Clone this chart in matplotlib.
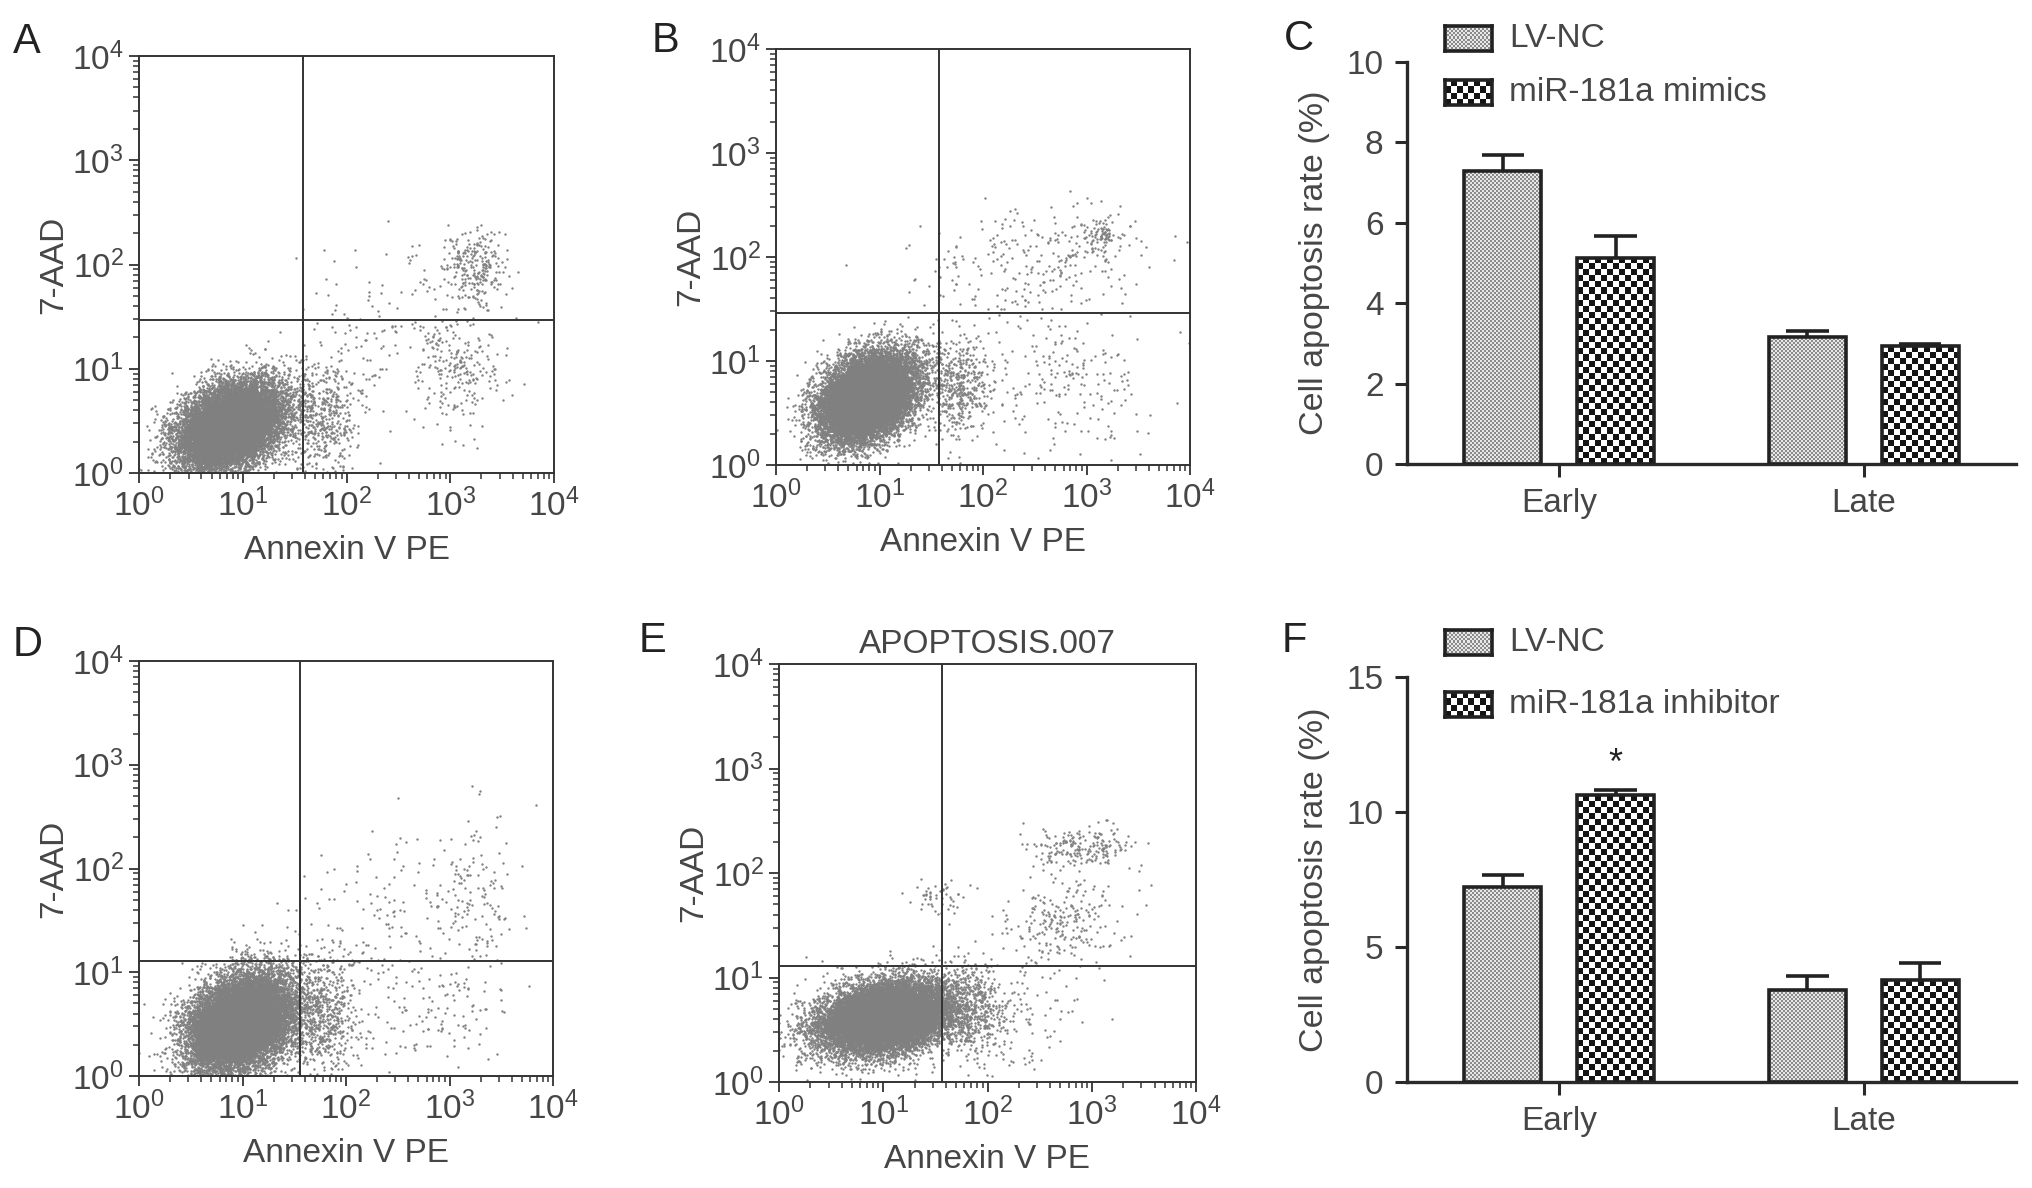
import numpy as np
import matplotlib
matplotlib.use("Agg")
import matplotlib.pyplot as plt
from matplotlib.colors import ListedColormap
from matplotlib.ticker import LogLocator, LogFormatterSciNotation, NullFormatter

plt.rcParams['font.family'] = ['Liberation Sans', 'DejaVu Sans']
plt.rcParams['mathtext.fontset'] = 'custom'
plt.rcParams['mathtext.rm'] = 'Liberation Sans'
plt.rcParams['mathtext.default'] = 'regular'

TXT = '#464646'
LINE = '#333333'
DOT = '#808080'
FS = 24

# === Flow cytometry panels: gates (Annexin V PE, 7-AAD) ===
gate_a = (38.2, 29.4)
gate_b = (37.6, 29.0)
gate_d = (36.0, 12.8)
gate_e = (36.6, 12.8)

# cell populations, in log10 units:
# centre x, centre y, spread x, spread y, correlation, number of events
pop_a_cx = [0.88, 1.75, 3.22, 3.05, 2.20]
pop_a_cy = [0.45, 0.50, 1.96, 1.00, 1.30]
pop_a_sx = [0.25, 0.18, 0.17, 0.22, 0.45]
pop_a_sy = [0.21, 0.28, 0.20, 0.28, 0.45]
pop_a_r = [0.35, 0.0, 0.0, 0.0, 0.3]
pop_a_n = [13000, 500, 260, 230, 170]

pop_b_cx = [0.88, 1.75, 3.12, 2.50, 2.70]
pop_b_cy = [0.65, 0.75, 2.20, 1.95, 0.85]
pop_b_sx = [0.23, 0.16, 0.10, 0.55, 0.45]
pop_b_sy = [0.21, 0.25, 0.10, 0.28, 0.40]
pop_b_r = [0.35, 0.0, 0.0, 0.2, 0.0]
pop_b_n = [14000, 450, 90, 260, 230]

pop_d_cx = [0.98, 1.75, 3.25, 2.30, 2.90]
pop_d_cy = [0.52, 0.55, 1.75, 1.40, 0.60]
pop_d_sx = [0.25, 0.18, 0.18, 0.45, 0.35]
pop_d_sy = [0.23, 0.28, 0.40, 0.50, 0.30]
pop_d_r = [0.3, 0.0, 0.0, 0.3, 0.0]
pop_d_n = [14000, 650, 140, 170, 110]

pop_e_cx = [1.02, 1.85, 2.90, 2.75, 1.55, 2.20]
pop_e_cy = [0.62, 0.70, 2.25, 1.55, 1.78, 0.60]
pop_e_sx = [0.31, 0.18, 0.25, 0.30, 0.12, 0.35]
pop_e_sy = [0.17, 0.25, 0.09, 0.22, 0.08, 0.30]
pop_e_r = [0.25, 0.0, 0.0, 0.0, 0.0, 0.0]
pop_e_n = [14000, 400, 200, 230, 50, 120]

# === Bar panels ===
groups = ['Early', 'Late']
c_names = ['LV-NC', 'miR-181a mimics']
c_lvnc = [7.30, 3.16]
c_lvnc_err = [0.39, 0.14]
c_mimic = [5.13, 2.93]
c_mimic_err = [0.55, 0.05]

f_names = ['LV-NC', 'miR-181a inhibitor']
f_lvnc = [7.23, 3.39]
f_lvnc_err = [0.45, 0.55]
f_inhib = [10.62, 3.76]
f_inhib_err = [0.21, 0.64]
f_marks = ['*', '']

W, H = 2032, 1188
fig = plt.figure(figsize=(W / 100, H / 100), dpi=100)
rng = np.random.default_rng(3)


def fr(x0, y0, x1, y1):
    # pixel box (top-left origin) -> figure fraction rect
    return [x0 / W, 1 - y1 / H, (x1 - x0) / W, (y1 - y0) / H]


def flow_panel(rect, gate, cx, cy, sx, sy, rr, nn):
    ax = fig.add_axes(rect)
    xs, ys = [], []
    for i in range(len(cx)):
        cov = [[sx[i] ** 2, rr[i] * sx[i] * sy[i]], [rr[i] * sx[i] * sy[i], sy[i] ** 2]]
        p = rng.multivariate_normal([cx[i], cy[i]], cov, size=nn[i])
        xs.append(p[:, 0])
        ys.append(p[:, 1])
    lx = np.clip(np.concatenate(xs), 0.0, 4.0)
    ly = np.clip(np.concatenate(ys), 0.0, 4.0)
    ax.scatter(10 ** lx, 10 ** ly, s=3.0, c=DOT, lw=0, zorder=1)
    ax.set_xscale('log')
    ax.set_yscale('log')
    ax.set_xlim(1, 1e4)
    ax.set_ylim(1, 1e4)
    ax.axvline(gate[0], color=LINE, lw=1.4, zorder=3)
    ax.axhline(gate[1], color=LINE, lw=1.4, zorder=3)
    for axis in (ax.xaxis, ax.yaxis):
        axis.set_major_locator(LogLocator(base=10, numticks=10))
        axis.set_minor_locator(LogLocator(base=10, subs=np.arange(2, 10), numticks=10))
        axis.set_major_formatter(LogFormatterSciNotation())
        axis.set_minor_formatter(NullFormatter())
    ax.tick_params(which='major', direction='out', length=7, width=1.3, color=LINE,
                   labelsize=FS, labelcolor=TXT, pad=4)
    ax.tick_params(which='minor', direction='out', length=4, width=1.1, color=LINE)
    for s in ax.spines.values():
        s.set_linewidth(1.4)
        s.set_color(LINE)
    ax.set_xlabel('Annexin V PE', fontsize=FS, color=TXT, labelpad=9)
    ax.set_ylabel('7-AAD', fontsize=FS, color=TXT, labelpad=2)
    return ax


flow_panel(fr(139, 56, 554, 473), gate_a, pop_a_cx, pop_a_cy, pop_a_sx, pop_a_sy, pop_a_r, pop_a_n)
flow_panel(fr(776, 49, 1190, 465), gate_b, pop_b_cx, pop_b_cy, pop_b_sx, pop_b_sy, pop_b_r, pop_b_n)
flow_panel(fr(139, 661, 553, 1076), gate_d, pop_d_cx, pop_d_cy, pop_d_sx, pop_d_sy, pop_d_r, pop_d_n)
ax_e = flow_panel(fr(779, 664, 1196, 1082), gate_e, pop_e_cx, pop_e_cy, pop_e_sx, pop_e_sy, pop_e_r, pop_e_n)
ax_e.set_title('APOPTOSIS.007', fontsize=FS, color=TXT, pad=8)

FINE = ('#8a8a8a', '#e8e8e8', 2.0)
COARSE = ('#141414', '#ffffff', 6.0)


def checker(ax, x0, x1, y0, y1, style, clip=None):
    c1, c2, cell = style
    p0 = ax.transData.transform((x0, y0))
    p1 = ax.transData.transform((x1, y1))
    nx = max(1, int(round(abs(p1[0] - p0[0]) / cell)))
    ny = max(1, int(round(abs(p1[1] - p0[1]) / cell)))
    grid = np.indices((ny, nx)).sum(axis=0) % 2
    im = ax.imshow(grid, extent=(x0, x1, y0, y1), cmap=ListedColormap([c1, c2]),
                   interpolation='nearest', aspect='auto', origin='lower', zorder=2)
    if clip is not None:
        im.set_clip_path(clip)
    return im


def bar_panel(rect, ymax, yticks, s1, e1, s2, e2, names, legend_tops, marks=None):
    ax = fig.add_axes(rect)
    ax.set_xlim(-0.5, 1.5)
    ax.set_ylim(0, ymax)
    x = np.arange(len(groups))
    bw = 0.253
    off = 0.185
    for vals, errs, dx, style in ((s1, e1, -off, FINE), (s2, e2, off, COARSE)):
        bars = ax.bar(x + dx, vals, bw, facecolor='none', edgecolor='#222222',
                      linewidth=2.6, zorder=3)
        for b in bars:
            checker(ax, b.get_x(), b.get_x() + b.get_width(), 0, b.get_height(),
                    style, clip=b)
        ax.vlines(x + dx, vals, np.array(vals) + np.array(errs), color='#222222',
                  lw=2.6, zorder=4)
        ax.hlines(np.array(vals) + np.array(errs), x + dx - 0.07, x + dx + 0.07,
                  color='#222222', lw=2.6, zorder=4)
        if marks is not None and dx > 0:
            for xi, v, e, m in zip(x, vals, errs, marks):
                if m:
                    ax.text(xi + dx, v + e + ymax * 0.02, m, ha='center', va='bottom',
                            fontsize=26, color='#222222')
    ax.set_xlim(-0.5, 1.5)
    ax.set_ylim(0, ymax)
    ax.set_xticks(x)
    ax.set_xticklabels(groups)
    ax.set_yticks(yticks)
    for side in ('top', 'right'):
        ax.spines[side].set_visible(False)
    for side in ('left', 'bottom'):
        ax.spines[side].set_linewidth(2.4)
        ax.spines[side].set_color('#2a2a2a')
    ax.tick_params(direction='out', length=9, width=2.2, color='#2a2a2a',
                   labelsize=FS, labelcolor=TXT, pad=8)
    ax.set_ylabel('Cell apoptosis rate (%)', fontsize=FS + 0.5, color=TXT, labelpad=12)
    # legend swatches above the plot
    for name, top, style in zip(names, legend_tops, (FINE, COARSE)):
        sw = fig.add_axes(fr(1445, top, 1492, top + 25))
        sw.set_xlim(0, 1)
        sw.set_ylim(0, 1)
        checker(sw, 0, 1, 0, 1, style)
        sw.set_xlim(0, 1)
        sw.set_ylim(0, 1)
        sw.set_xticks([])
        sw.set_yticks([])
        for s in sw.spines.values():
            s.set_linewidth(2.6)
            s.set_color('#222222')
        fig.text(1509 / W, 1 - (top + 12.5) / H, name, fontsize=FS, color=TXT,
                 ha='left', va='center')
    return ax


bar_panel(fr(1407, 62, 2016, 464), 10, [0, 2, 4, 6, 8, 10],
          c_lvnc, c_lvnc_err, c_mimic, c_mimic_err, c_names, [26, 80])
bar_panel(fr(1407, 677, 2016, 1082), 15, [0, 5, 10, 15],
          f_lvnc, f_lvnc_err, f_inhib, f_inhib_err, f_names, [630, 692], marks=f_marks)

# panel letters
for letter, px, py in (('A', 13, 53), ('B', 652, 52), ('C', 1284, 50),
                       ('D', 13, 656), ('E', 639, 652), ('F', 1282, 652)):
    fig.text(px / W, 1 - py / H, letter, fontsize=30, color='#222222',
             ha='left', va='baseline')

fig.savefig('out.png', dpi=100)
